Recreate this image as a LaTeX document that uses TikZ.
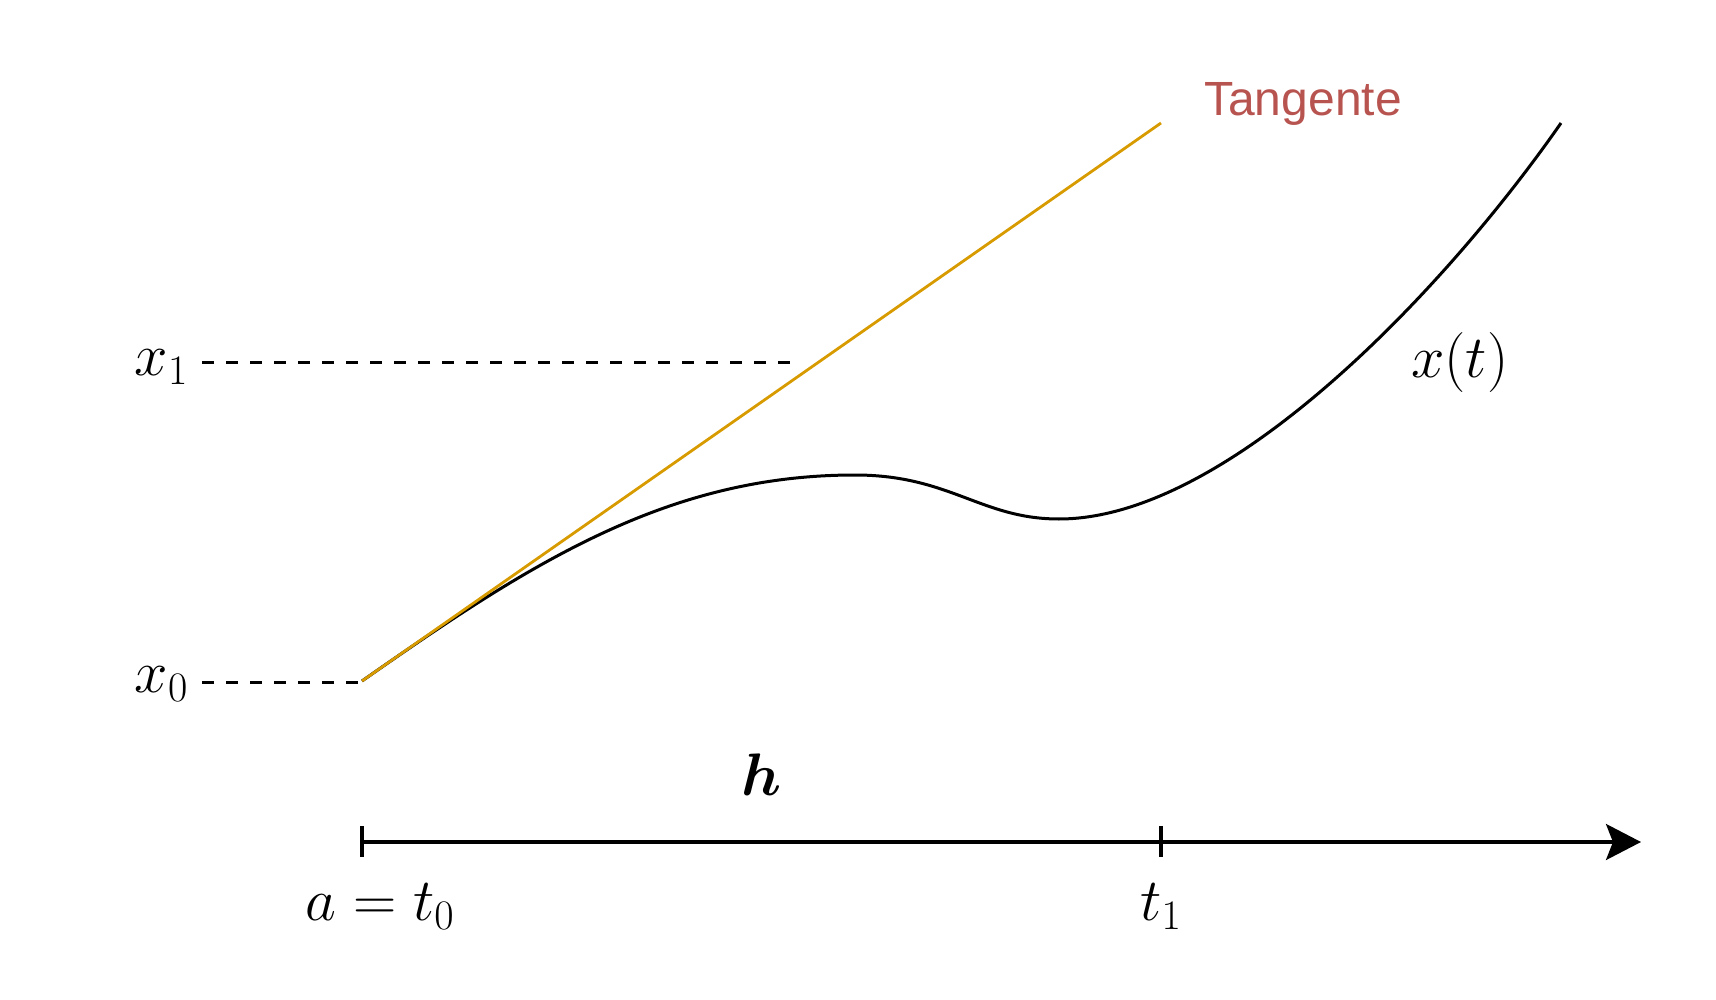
\RequirePackage{fix-cm}
\documentclass[tikz,border=0pt]{standalone}
\usepackage{amsmath,bm}
\usepackage{fontspec}
\newfontfamily\labelsans{Liberation Sans}
\usetikzlibrary{arrows.meta}
\definecolor{tanorange}{HTML}{D79B00}
\definecolor{tanred}{HTML}{B85450}
\tikzset{
  mathlbl/.style={font=\fontsize{60}{66}\selectfont, inner sep=0pt},
  curveline/.style={line width=3pt, black},
  tanline/.style={line width=2.8pt, tanorange},
  axisline/.style={line width=3.3pt, black},
  dashline/.style={line width=3pt, black, dash pattern=on 12pt off 12pt},
}
\begin{document}
\begin{tikzpicture}[x=1pt, y=-1pt]
\useasboundingbox (0,0) rectangle (1716,1000);
% key points
\coordinate (P0) at (362,681);
\coordinate (TE) at (1161,123);
\coordinate (M1) at (855,475);
\coordinate (M2) at (1059,519);
\coordinate (CE) at (1561,123);
\coordinate (A0) at (362,842);
\coordinate (AE) at (1641,842);
\coordinate (T0a) at (362,826);
\coordinate (T0b) at (362,857);
\coordinate (T1a) at (1161,826);
\coordinate (T1b) at (1161,857);
\coordinate (D1s) at (202,362);
\coordinate (D1e) at (790,362);
\coordinate (D0s) at (202,682);
\coordinate (D0e) at (362,682);
% labels
\node[mathlbl, anchor=base east] (lx1) at (188,375) {$x_1$};
\node[mathlbl, anchor=base east] (lx0) at (188,692) {$x_0$};
\node[mathlbl, anchor=base] (la) at (380,920) {$a = t_0$};
\node[mathlbl, anchor=base] (lt1) at (1161,920) {$t_1$};
\node[mathlbl, anchor=base] (lh) at (762,795) {$\bm{h}$};
\node[mathlbl, anchor=base west] (lxt) at (1411,377) {$x(t)$};
\node[font=\labelsans\fontsize{48}{52}\selectfont, text=tanred, anchor=base west, inner sep=0pt] (ltan) at (1204,116) {Tangente};
% dashed guides
\draw[dashline] (D1s) -- (D1e);
\draw[dashline] (D0s) -- (D0e);
% curve
\draw[curveline] (P0) .. controls (532,562) and (668,475) .. (M1)
  .. controls (950,475) and (981,519) .. (M2)
  .. controls (1229,519) and (1447,287) .. (CE);
% tangent
\draw[tanline] (P0) -- (TE);
% axis
\draw[axisline, -{Stealth[length=35pt,width=36pt,inset=7pt]}] (A0) -- (AE);
\draw[axisline] (T0a) -- (T0b);
\draw[axisline] (T1a) -- (T1b);
\end{tikzpicture}
\end{document}
